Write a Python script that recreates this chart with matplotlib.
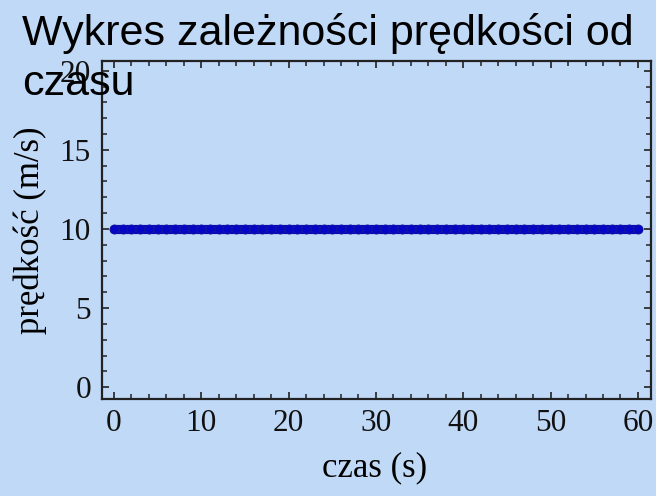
import matplotlib
matplotlib.use("Agg")
import matplotlib.pyplot as plt
from matplotlib.ticker import MultipleLocator

# data
czas = [0, 1, 2, 3, 4, 5, 6, 7, 8, 9, 10, 11, 12, 13, 14, 15, 16, 17, 18, 19, 20,
        21, 22, 23, 24, 25, 26, 27, 28, 29, 30, 31, 32, 33, 34, 35, 36, 37, 38, 39, 40,
        41, 42, 43, 44, 45, 46, 47, 48, 49, 50, 51, 52, 53, 54, 55, 56, 57, 58, 59, 60]
predkosc = [10] * len(czas)
x_ticks = [0, 10, 20, 30, 40, 50, 60]
y_ticks = [0, 5, 10, 15, 20]

bg = "#C0D9F7"
fig = plt.figure(figsize=(6.56, 4.96), dpi=100, facecolor=bg)
L, R, T, B = 102, 651, 60.7, 399.3
ax = fig.add_axes([L/656, 1 - B/496, (R - L)/656, (B - T)/496])
ax.set_facecolor(bg)

ax.plot(czas, predkosc, color="#0505C6", lw=6.6, marker="o", ms=6.6,
        mfc="#0505C6", mec="#1A1A8E", mew=0.5, solid_capstyle="round")

ax.set_xlim(-1.37, 61.5)
ax.set_ylim(-0.76, 20.63)
ax.set_xticks(x_ticks)
ax.set_yticks(y_ticks)
ax.xaxis.set_minor_locator(MultipleLocator(2))
ax.yaxis.set_minor_locator(MultipleLocator(1))

serif = ["Liberation Serif", "DejaVu Serif"]
ax.tick_params(which="both", direction="in", top=True, right=True, colors="#222222")
ax.tick_params(which="major", length=5.2, width=1.2, labelsize=22.5)
ax.tick_params(axis="x", which="major", pad=7)
ax.tick_params(axis="y", which="major", pad=8)
ax.tick_params(which="minor", length=3.6, width=1.1)
for lab in ax.get_xticklabels() + ax.get_yticklabels():
    lab.set_fontfamily(serif)
    lab.set_color("#111111")
for s in ax.spines.values():
    s.set_linewidth(1.6)
    s.set_color("#222222")

ax.set_xlabel("czas (s)", fontfamily=serif, fontsize=25)
ax.set_ylabel("prędkość (m/s)", fontfamily=serif, fontsize=25)
ax.xaxis.set_label_coords((375 - L) / (R - L), -(468 - B) / (B - T), transform=ax.transAxes)
ax.xaxis.label.set_va("center")
ax.yaxis.set_label_coords(-(L - 30) / (R - L), (B - 230) / (B - T), transform=ax.transAxes)
ax.yaxis.label.set_va("center")

sans = ["Liberation Sans", "DejaVu Sans"]
fig.text(22/656, 1 - 45/496, "Wykres zależności prędkości od", fontfamily=sans,
         fontsize=31, color="black", va="baseline", ha="left")
fig.text(22/656, 1 - 95/496, "czasu", fontfamily=sans,
         fontsize=31, color="black", va="baseline", ha="left", zorder=10)

fig.savefig("out.png", dpi=100, facecolor=bg)
